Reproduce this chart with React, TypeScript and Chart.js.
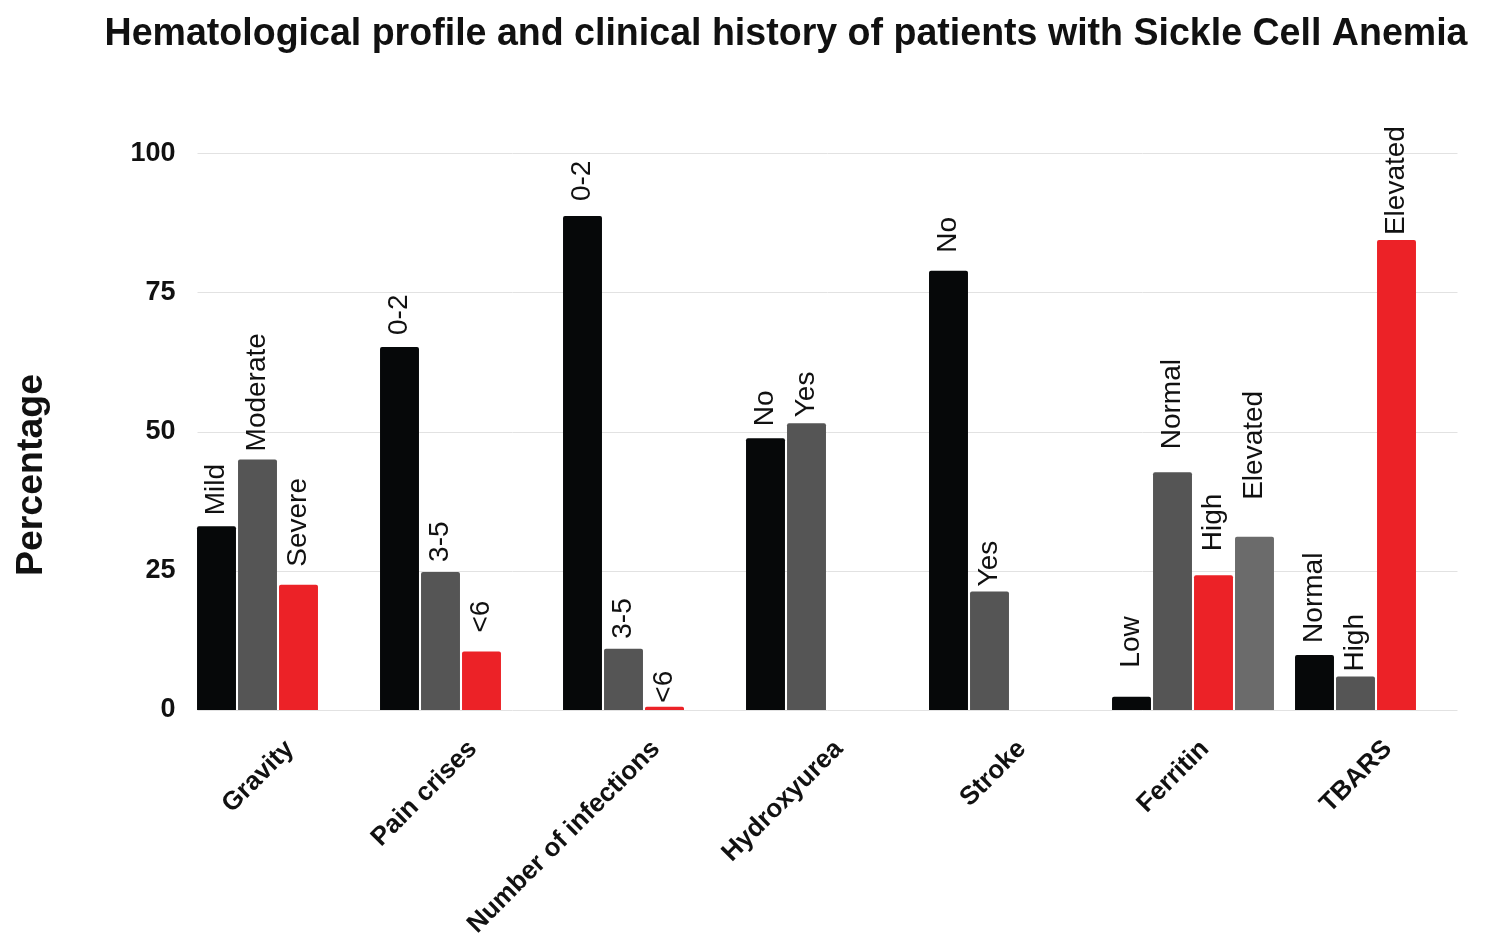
import React, { useEffect, useRef } from 'react'
import { Chart, registerables } from 'chart.js'

Chart.register(...registerables)

const groups = ['Gravity', 'Pain crises', 'Number of infections', 'Hydroxyurea', 'Stroke', 'Ferritin', 'TBARS']

// one array per bar slot inside a group (null = no bar in that slot)
const slot1Values = [33.0, 65.2, 88.7, 48.8, 78.9, 2.4, 9.9]
const slot2Values = [45.0, 24.8, 11.0, 51.5, 21.3, 42.7, 6.0]
const slot3Values = [22.5, 10.5, 0.6, null, null, 24.2, 84.4]
const slot4Values = [null, null, null, null, null, 31.1, null]

const slot1Labels = ['Mild', '0-2', '0-2', 'No', 'No', 'Low', 'Normal']
const slot2Labels = ['Moderate', '3-5', '3-5', 'Yes', 'Yes', 'Normal', 'High']
const slot3Labels = ['Severe', '<6', '<6', '', '', 'High', 'Elevated']
const slot4Labels = ['', '', '', '', '', 'Elevated', '']

const slotColors = ['#060809', '#555555', '#ec2227', '#6b6b6b']

// gap (px) between a bar top and its label, the labels sit unevenly in the original
const labelGaps = [
  [11, 12, 15, 12, 18, 29, 12],
  [8, 10, 10, 6, 5, 23, 5],
  [18, 19, 4, 0, 0, 24, 5],
  [0, 0, 0, 0, 0, 37, 0],
]

const FONT = "'Liberation Sans', Arial, sans-serif"

const gridPlugin = {
  id: 'insetGrid',
  beforeDatasetsDraw(chart: any) {
    const { ctx, chartArea, scales } = chart
    const y = scales.y
    ctx.save()
    ctx.strokeStyle = '#e2e2e2'
    ctx.lineWidth = 1
    y.ticks.forEach((t: any) => {
      const py = Math.round(y.getPixelForValue(t.value)) + 0.5
      ctx.beginPath()
      ctx.moveTo(chartArea.left + 11, py)
      ctx.lineTo(chartArea.right - 10, py)
      ctx.stroke()
    })
    ctx.restore()
  },
}

const barLabelPlugin = {
  id: 'barLabels',
  afterDatasetsDraw(chart: any) {
    const { ctx } = chart
    const allLabels = [slot1Labels, slot2Labels, slot3Labels, slot4Labels]
    ctx.save()
    ctx.font = `28px ${FONT}`
    ctx.fillStyle = '#111'
    ctx.textAlign = 'left'
    ctx.textBaseline = 'middle'
    chart.data.datasets.forEach((ds: any, di: number) => {
      const meta = chart.getDatasetMeta(di)
      meta.data.forEach((bar: any, i: number) => {
        const text = allLabels[di][i]
        if (!text || ds.data[i] == null) return
        ctx.save()
        ctx.translate(bar.x, bar.y - labelGaps[di][i])
        ctx.rotate(-Math.PI / 2)
        ctx.fillText(text, 0, 0)
        ctx.restore()
      })
    })
    ctx.restore()
  },
}

const yTitlePlugin = {
  id: 'yTitle',
  afterDraw(chart: any) {
    const { ctx, height } = chart
    ctx.save()
    ctx.font = `bold 37.5px ${FONT}`
    ctx.fillStyle = '#111'
    ctx.textAlign = 'center'
    ctx.textBaseline = 'middle'
    ctx.translate(32, height / 2)
    ctx.rotate(-Math.PI / 2)
    ctx.fillText('Percentage', 0, 0)
    ctx.restore()
  },
}

function BarChart() {
  const canvasRef = useRef<HTMLCanvasElement>(null)
  const chartRef = useRef<Chart | null>(null)

  useEffect(() => {
    if (!canvasRef.current) return
    chartRef.current?.destroy()
    const values = [slot1Values, slot2Values, slot3Values, slot4Values]
    chartRef.current = new Chart(canvasRef.current, {
      type: 'bar',
      data: {
        labels: groups,
        datasets: values.map((data, i) => ({
          label: 'slot ' + (i + 1),
          data,
          backgroundColor: slotColors[i],
          barPercentage: 0.95,
          categoryPercentage: 164 / 183,
          borderRadius: 2,
          borderSkipped: 'bottom',
        })),
      },
      options: {
        responsive: true,
        maintainAspectRatio: false,
        animation: false,
        layout: { padding: { left: 104.5, right: 32.5, top: 0, bottom: 0 } },
        plugins: {
          legend: { display: false },
          tooltip: { enabled: false },
          title: {
            display: true,
            text: 'Hematological profile and clinical history of patients with Sickle Cell Anemia',
            color: '#111',
            font: { family: FONT, size: 38.5, weight: 'bold', lineHeight: 1.2 },
            padding: { top: 11, bottom: 96 },
          },
        },
        scales: {
          x: {
            grid: { display: false, drawTicks: false },
            border: { display: false },
            ticks: {
              autoSkip: false,
              minRotation: 45,
              maxRotation: 45,
              padding: 24,
              labelOffset: 12,
              color: '#111',
              font: { family: FONT, size: 26, weight: 'bold' },
            },
            afterFit(scale: any) {
              scale.height = 240
            },
          },
          y: {
            min: 0,
            max: 100,
            grid: { display: false, drawTicks: false },
            border: { display: false },
            ticks: {
              stepSize: 25,
              padding: 11,
              color: '#111',
              font: { family: FONT, size: 27, weight: 'bold' },
            },
            afterFit(scale: any) {
              scale.width = 82
            },
          },
        },
      },
      plugins: [gridPlugin, barLabelPlugin, yTitlePlugin],
    } as any)
    return () => chartRef.current?.destroy()
  }, [])

  return (
    <div style={{ position: 'fixed', left: 0, top: 0, width: 1500, height: 950, background: '#fff' }}>
      <canvas ref={canvasRef} />
    </div>
  )
}

export default function App() {
  return <BarChart />
}
